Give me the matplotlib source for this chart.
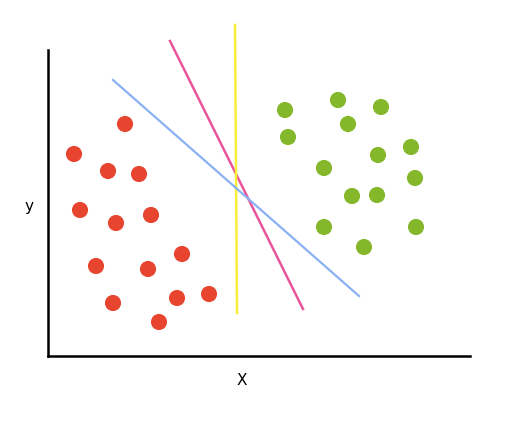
import matplotlib.pyplot as plt

# points measured in pixel units from the axis origin (x right, y up)
red_x = [77, 26, 60, 91, 32, 68, 103, 48, 100, 134, 65, 129, 161, 111]
red_y = [232, 202, 185, 182, 146, 133, 141, 90, 87, 102, 53, 58, 62, 34]
green_x = [237, 290, 333, 300, 240, 330, 363, 276, 367, 304, 329, 276, 368, 316]
green_y = [246, 256, 249, 232, 219, 201, 209, 188, 178, 160, 161, 129, 129, 109]

# separating lines: (x0, y0, x1, y1)
pink_line = (122, 315, 255, 47)
yellow_line = (187, 331, 189, 43)
blue_line = (65, 276, 311, 60)

fig = plt.figure(figsize=(5.15, 4.23), dpi=100)
ax = fig.add_axes([48 / 515, 67 / 423, 422 / 515, 306 / 423])
ax.set_xlim(0, 422)
ax.set_ylim(0, 306)

for s in ['top', 'right']:
    ax.spines[s].set_visible(False)
for s in ['left', 'bottom']:
    ax.spines[s].set_linewidth(1.8)
    ax.spines[s].set_color('black')
ax.set_xticks([])
ax.set_yticks([])

ax.scatter(red_x, red_y, s=135, color='#e84530', edgecolors='none', zorder=3)
ax.scatter(green_x, green_y, s=135, color='#84b72a', edgecolors='none', zorder=3)

ax.plot(pink_line[::2], pink_line[1::2], color='#e8559a', lw=1.8, clip_on=False)
ax.plot(yellow_line[::2], yellow_line[1::2], color='#f7ef3a', lw=1.8, clip_on=False)
ax.plot(blue_line[::2], blue_line[1::2], color='#8ab0f5', lw=1.6, clip_on=False)

fig.text(29 / 515, 1 - 206 / 423, 'y', fontsize=11, ha='center', va='center')
fig.text(242 / 515, 1 - 380 / 423, 'X', fontsize=11, ha='center', va='center')

fig.savefig('out.png', dpi=100)
